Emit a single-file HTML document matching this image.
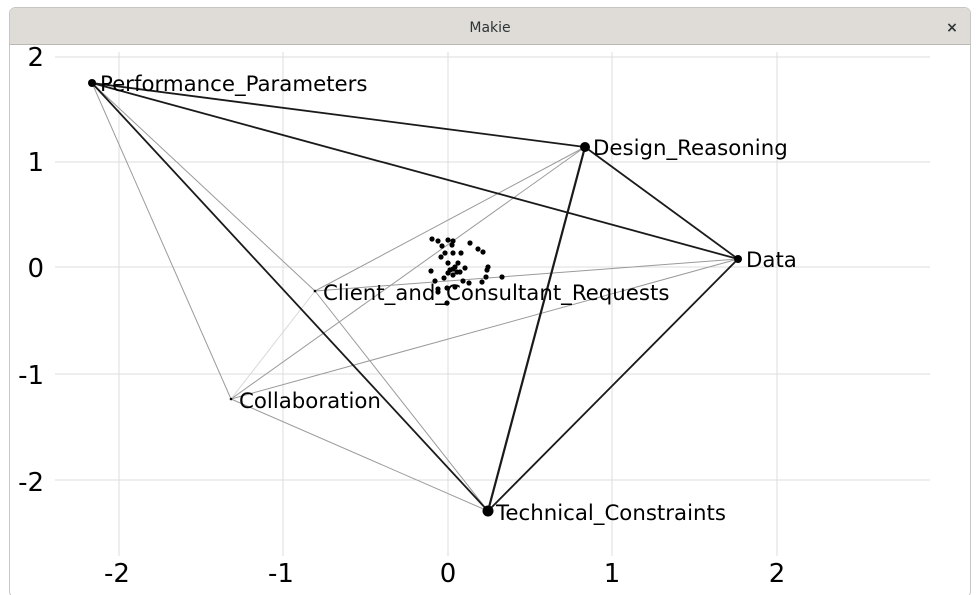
<!DOCTYPE html>
<html><head><style>
html,body{margin:0;padding:0;background:#fff;width:980px;height:595px;overflow:hidden;font-family:"DejaVu Sans","Liberation Sans",sans-serif;}
</style></head><body>
<svg width="980" height="595" xmlns="http://www.w3.org/2000/svg" font-family="DejaVu Sans, Liberation Sans, sans-serif">
<rect x="0" y="0" width="980" height="595" fill="#fff"/>
<rect x="9.5" y="7.5" width="961" height="590" rx="6" fill="#fff" stroke="#c8c6c2"/>
<path d="M10 44 V14 Q10 8 16 8 H964 Q970 8 970 14 V44 Z" fill="#dfdcd8"/>
<line x1="10" y1="44.5" x2="970" y2="44.5" stroke="#bcb9b5"/>
<text x="490" y="32" font-size="14" text-anchor="middle" fill="#2e3436">Makie</text>
<text x="952" y="32" font-size="14" font-weight="bold" text-anchor="middle" fill="#2e3436">×</text>
<g stroke="#dcdcdc" stroke-width="1">
<line x1="119" y1="52" x2="119" y2="556"/><line x1="283" y1="52" x2="283" y2="556"/><line x1="448" y1="52" x2="448" y2="556"/><line x1="612" y1="52" x2="612" y2="556"/><line x1="777" y1="52" x2="777" y2="556"/>
<line x1="55" y1="57" x2="930" y2="57"/><line x1="55" y1="162" x2="930" y2="162"/><line x1="55" y1="267" x2="930" y2="267"/><line x1="55" y1="374" x2="930" y2="374"/><line x1="55" y1="480" x2="930" y2="480"/>
</g>
<g font-size="26" fill="#000">
<text x="44" y="66" text-anchor="end">2</text><text x="44" y="171" text-anchor="end">1</text><text x="44" y="277" text-anchor="end">0</text><text x="44" y="384" text-anchor="end">-1</text><text x="44" y="491" text-anchor="end">-2</text>
<text x="117" y="582" text-anchor="middle">-2</text><text x="281" y="582" text-anchor="middle">-1</text><text x="448" y="582" text-anchor="middle">0</text><text x="612" y="582" text-anchor="middle">1</text><text x="777" y="582" text-anchor="middle">2</text>
</g>
<g stroke="#9a9a9a" stroke-width="1" fill="none">
<line x1="92" y1="83" x2="231" y2="399"/>
<line x1="92" y1="83" x2="315" y2="291"/>
<line x1="315" y1="291" x2="488" y2="511"/>
<line x1="315" y1="291" x2="585" y2="147"/>
<line x1="315" y1="291" x2="738" y2="259"/>
<line x1="231" y1="399" x2="585" y2="147"/>
<line x1="231" y1="399" x2="738" y2="259"/>
<line x1="231" y1="399" x2="488" y2="511"/>
<line x1="231" y1="399" x2="315" y2="291" stroke="#d8d8d8"/>
</g>
<g stroke="#1a1a1a" stroke-width="1.8" fill="none">
<line x1="92" y1="83" x2="585" y2="147"/>
<line x1="92" y1="83" x2="738" y2="259"/>
<line x1="92" y1="83" x2="488" y2="511"/>
<line x1="585" y1="147" x2="738" y2="259"/>
<line x1="585" y1="147" x2="488" y2="511" stroke-width="2.2"/>
<line x1="738" y1="259" x2="488" y2="511"/>
</g>
<g fill="#000">
<circle cx="92" cy="83" r="4"/><circle cx="585" cy="147" r="5"/><circle cx="738" cy="259" r="4"/><circle cx="488" cy="511" r="5.5"/>
<circle cx="315" cy="291" r="1.3"/><circle cx="231" cy="399" r="1.3"/>
<circle cx="432" cy="239" r="2.6"/><circle cx="438" cy="241" r="2.6"/><circle cx="442" cy="246" r="2.6"/><circle cx="448" cy="240" r="2.6"/><circle cx="453" cy="241" r="2.6"/><circle cx="452" cy="245" r="2.6"/><circle cx="445" cy="253" r="2.6"/><circle cx="453" cy="253" r="2.6"/><circle cx="461" cy="253" r="2.6"/><circle cx="470" cy="243" r="2.6"/><circle cx="478" cy="249" r="2.6"/><circle cx="483" cy="252" r="2.6"/><circle cx="431" cy="271" r="2.6"/><circle cx="435" cy="281" r="2.6"/><circle cx="438" cy="289" r="2.6"/><circle cx="444" cy="278" r="2.6"/><circle cx="448" cy="273" r="2.6"/><circle cx="450" cy="270" r="2.6"/><circle cx="453" cy="269" r="2.6"/><circle cx="455" cy="267" r="2.6"/><circle cx="458" cy="263" r="2.6"/><circle cx="460" cy="272" r="2.6"/><circle cx="465" cy="268" r="2.6"/><circle cx="463" cy="281" r="2.6"/><circle cx="469" cy="283" r="2.6"/><circle cx="482" cy="282" r="2.6"/><circle cx="486" cy="277" r="2.6"/><circle cx="487" cy="270" r="2.6"/><circle cx="488" cy="267" r="2.6"/><circle cx="502" cy="277" r="2.6"/><circle cx="447" cy="288" r="2.6"/><circle cx="455" cy="287" r="2.6"/><circle cx="447" cy="303" r="2.6"/><circle cx="448" cy="263" r="2.6"/><circle cx="453" cy="275" r="2.6"/><circle cx="457" cy="272" r="2.6"/><circle cx="441" cy="257" r="2.6"/><circle cx="438" cy="292" r="2.6"/>
</g>
<g font-size="21.3" fill="#000">
<text x="100" y="91">Performance_Parameters</text>
<text x="593" y="155">Design_Reasoning</text>
<text x="746" y="267">Data</text>
<text x="323" y="300">Client_and_Consultant_Requests</text>
<text x="239" y="408">Collaboration</text>
<text x="496" y="520">Technical_Constraints</text>
</g>
</svg>
</body></html>
